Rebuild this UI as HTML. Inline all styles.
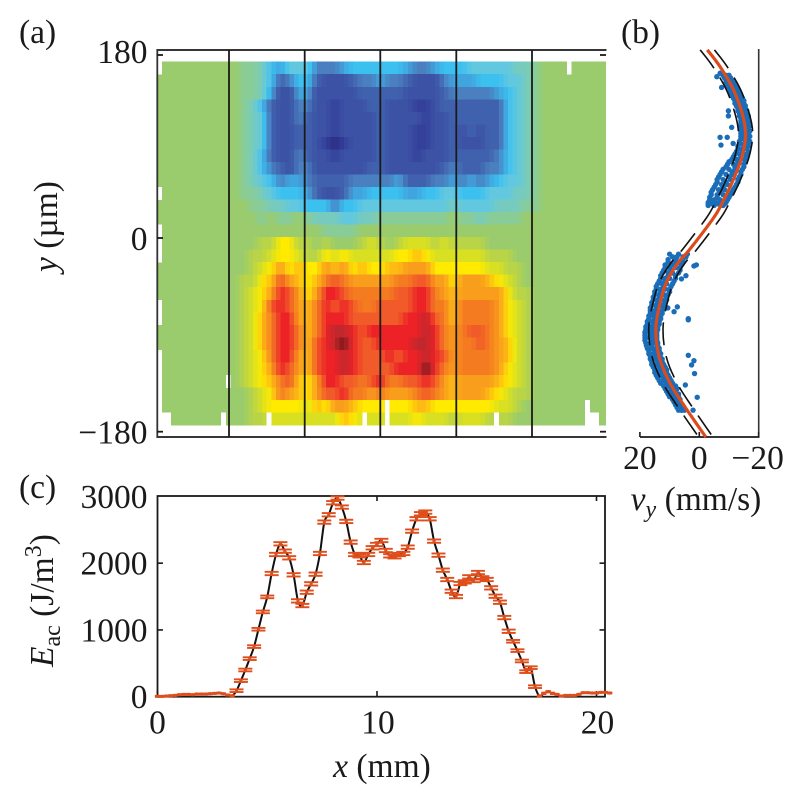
<!DOCTYPE html>
<html lang="en">
<head>
<meta charset="utf-8">
<title>Acoustic energy density chart</title>
<style>
html,body{margin:0;padding:0;background:#fff;}
svg{display:block;}
text{font-family:"Liberation Serif",serif;font-size:33.5px;fill:#1a1a1a;}
.i{font-style:italic;}
</style>
</head>
<body>
<svg id="fig" xmlns="http://www.w3.org/2000/svg" width="800" height="804" viewBox="0 0 800 804">
  <g id="heat" shape-rendering="crispEdges"></g>
  <g id="frameA"></g>
  <g id="panelB"></g>
  <g id="panelC"></g>

  <text x="19" y="43">(a)</text>
  <text x="621" y="43">(b)</text>
  <text x="19" y="498">(c)</text>
  <text transform="translate(57,272) rotate(-90)"><tspan class="i">y</tspan> (µm)</text>
  <text transform="translate(53,667) rotate(-90)"><tspan class="i">E</tspan><tspan dy="7" font-size="24">ac</tspan><tspan dy="-7"> (J/m</tspan><tspan dy="-12" font-size="24">3</tspan><tspan dy="12">)</tspan></text>
  <text x="382" y="777" text-anchor="middle"><tspan class="i">x</tspan> (mm)</text>
  <text x="696" y="510" text-anchor="middle"><tspan class="i">v</tspan><tspan class="i" dy="7" font-size="24">y</tspan><tspan dy="-7"> (mm/s)</tspan></text>
</svg>
<script>
// ---------- Panel (a): heatmap data, one row per y bin, top to bottom ----------
const heatLeadingZeroCols = 8;
const heatTotalCols = 50;
const heatLevels = [
[0,-1,-1,-2,-4,-5,-3,-3,-3,-6,-6,-6,-5,-4,-4,-4,-4,-4,-4,-5,-6,-6,-5,-4,-4,-4,-3,-3,-3,-3,-3,-2,-2,-1],
[0,-1,-1,-2,-4,-7,-6,-4,-4,-7,-8,-8,-8,-7,-6,-6,-5,-6,-6,-7,-8,-8,-8,-6,-5,-5,-5,-4,-4,-4,-3,-3,-2,-1],
[0,-1,-1,-2,-5,-8,-8,-5,-5,-8,-8,-8,-8,-8,-7,-7,-7,-7,-7,-8,-8,-8,-8,-7,-6,-6,-6,-6,-6,-5,-4,-3,-2,-1],
[0,-1,-2,-4,-7,-8,-8,-6,-6,-8,-8,-9,-8,-8,-8,-7,-7,-8,-8,-8,-9,-9,-8,-7,-7,-7,-7,-7,-7,-7,-4,-3,-2,-1],
[0,-1,-2,-3,-7,-8,-8,-6,-7,-8,-8,-9,-8,-8,-8,-8,-7,-8,-8,-8,-8,-9,-8,-8,-7,-7,-7,-7,-7,-7,-4,-3,-2,-1],
[0,-1,-2,-3,-7,-8,-8,-7,-7,-8,-8,-9,-8,-8,-8,-8,-7,-8,-8,-8,-9,-9,-8,-8,-7,-8,-7,-8,-7,-7,-4,-3,-2,-1],
[0,-1,-2,-3,-7,-8,-8,-7,-7,-8,-9,-10,-9,-8,-8,-8,-7,-8,-8,-8,-9,-9,-8,-8,-7,-8,-8,-8,-7,-7,-4,-3,-2,-1],
[0,-1,-2,-4,-7,-8,-8,-6,-7,-8,-8,-9,-8,-8,-8,-8,-7,-8,-8,-8,-9,-8,-8,-8,-7,-7,-7,-7,-7,-6,-4,-3,-2,-1],
[0,-1,-2,-4,-6,-7,-8,-6,-6,-8,-8,-8,-8,-8,-8,-7,-7,-8,-8,-8,-8,-8,-8,-7,-6,-7,-7,-7,-6,-6,-4,-3,-2,-1],
[0,-1,-2,-3,-4,-6,-5,-5,-6,-7,-7,-7,-7,-6,-6,-6,-6,-6,-5,-7,-7,-7,-6,-6,-5,-6,-5,-6,-5,-4,-3,-3,-2,-1],
[0,-1,-1,-2,-3,-4,-4,-4,-5,-7,-8,-8,-7,-5,-5,-4,-4,-4,-4,-5,-5,-4,-4,-3,-3,-4,-4,-4,-3,-3,-3,-2,-2,-1],
[0,0,-1,-1,-2,-2,-3,-3,-4,-4,-4,-6,-4,-4,-3,-3,-3,-3,-3,-3,-3,-3,-3,-3,-2,-3,-3,-3,-3,-2,-2,-2,-1,-1],
[0,0,0,-1,0,-1,-1,0,-1,-2,-2,-2,-3,-3,-2,-2,-1,-1,-1,-1,-1,-1,-1,-1,0,-1,-1,-2,-1,-1,-1,-1,0,0],
[0,0,0,0,0,0,0,0,0,0,-1,-1,-1,-1,0,0,0,0,0,0,0,0,0,0,0,0,0,0,0,0,0,0,0,0],
[0,0,0,1,1,3,3,1,1,0,1,0,0,0,1,2,1,0,1,2,2,2,1,2,1,1,1,1,0,0,0,0,0,0],
[0,0,1,1,2,3,3,2,1,1,3,2,3,2,2,2,2,2,3,3,4,3,2,2,2,2,2,2,1,1,1,0,0,0],
[0,0,1,2,3,5,3,4,3,3,5,4,5,3,4,3,3,4,4,5,5,5,3,3,3,3,3,3,2,2,1,1,0,0],
[0,1,1,3,4,7,5,4,3,4,6,7,6,5,5,5,5,5,6,6,7,7,5,5,3,5,5,5,4,3,2,1,0,0],
[0,1,2,3,5,8,7,5,3,5,8,8,7,6,6,6,6,6,7,7,8,8,6,5,4,5,5,5,5,5,3,1,1,0],
[0,1,2,3,7,8,7,5,4,6,8,7,8,7,6,6,7,7,7,7,8,8,6,6,4,6,6,6,6,5,3,2,1,0],
[0,1,2,4,6,8,8,5,4,6,8,8,8,7,7,7,7,7,7,8,8,9,7,6,4,6,6,6,6,5,3,2,1,0],
[0,1,2,4,6,8,8,6,4,6,8,9,9,8,7,8,8,8,8,8,8,9,8,6,5,6,7,7,6,5,3,2,1,0],
[0,1,2,4,6,8,8,6,4,7,8,9,10,8,7,7,8,8,8,8,9,9,8,6,5,6,6,7,6,5,4,2,1,0],
[0,1,2,3,6,8,8,5,4,7,8,8,9,8,7,7,7,8,7,8,8,9,8,7,5,6,6,6,6,5,4,2,1,0],
[0,1,2,3,5,8,7,5,4,7,8,8,9,8,7,7,7,7,8,8,8,10,8,6,5,6,6,6,6,5,3,2,1,0],
[0,1,2,3,4,6,7,4,3,5,8,8,7,7,6,7,8,6,6,7,7,8,7,5,4,5,5,5,5,4,3,2,1,0],
[0,0,1,2,3,6,5,4,3,5,7,7,8,6,6,5,6,5,5,5,6,7,6,5,4,5,5,5,4,3,2,1,1,0],
[0,0,1,2,3,3,3,3,2,4,3,5,5,4,3,3,3,3,3,3,4,4,3,3,3,3,3,3,3,2,2,1,0,0],
[0,0,1,1,2,2,2,2,2,2,2,2,4,3,2,2,2,2,2,2,3,2,2,2,1,2,2,2,1,1,1,0,0,0]
];
// level -10..10 colours (index 0 = level -10)
const heatPalette = ["#2b2e83","#34409a","#3c52a4","#4062ae","#4a80c0","#40a4de","#3bc0f0","#62c8e0","#76cbbe","#8acc98","#9acb6c","#b9d447","#d9e021","#ffea00","#fdbb13","#f99d1c","#f47b20","#f15a29","#ec2227","#c1272d","#7d1518"];
// grid cells with no measurement, [half-column, row]
const missingCells = [[0,0],[0,10],[0,13],[0,14],[0,15],[0,19],[0,20],[0,23],[0,24],[0,25],[0,26],[0,27],[0,28],[1,28],[2,28],[14,28],[15,25],[24,28],[45,28],[50,28],[50,27],[74,28],[94,27],[94,28],[95,28],[96,28],[90,0]];

const yTicksA = [180, 0, -180];
const sectionLabels = ["s1", "s2", "s3", "s4", "s5"];

// ---------- Panel (b): velocity profile ----------
const fitY = [185,168.4,142.6,109.4,83.6,57,30.5,17.7,-11.2,-23.2,-39,-54.8,-82.7,-110.5,-134.7,-157,-185];
const fitV = [-2.7,-7,-12,-15.4,-14.7,-11.4,-7,-4.3,3.4,7.2,10.7,12.7,14.6,13.5,9.9,4.8,-2.2];
const fitBand = 2.4;
const xTicksB = [20, 0, -20];
const xTickLabelsB = ["20", "0", "\u221220"];
// each row: y then measured velocities at that y
const scatterRows = [
[160,-8,-9,-10],[155,-9,-10,-11],[150,-9.5,-10.5,-12],[145,-10.5,-11.5,-13],[140,-11,-12.5,-14],
[135,-12,-13.5,-15],[130,-12.5,-14,-15.5],[125,-13,-14.5,-16],[120,-13.5,-15,-16.5],[115,-14,-15.5,-16.5],
[110,-14,-15.5,-17],[105,-14,-15.5,-17],[100,-14,-15.5,-17],[95,-13.5,-15.5,-17],[90,-13,-15,-16.5],
[85,-12.5,-14.5,-16.5],[80,-11.5,-14,-16],[75,-10,-13,-15.5],[70,-9,-12,-15],[65,-7.5,-11,-14],
[60,-6.5,-10,-13.5],[55,-6,-9,-13],[50,-5,-8,-12],[45,-4,-7,-11],[40,-3.5,-6,-10],[35,-3,-5.5,-9],[32,-3,-5,-8],
[157.5,-8.5,-9.5,-10.5],[152.5,-9,-10,-11.5],[147.5,-10,-11,-12.5],[142.5,-10.5,-12,-13.5],[137.5,-11.5,-13,-14.5],
[132.5,-12,-13.5,-15],[127.5,-13,-14.5,-15.5],[122.5,-13.5,-14.5,-16],[117.5,-14,-15,-16.5],[112.5,-14,-15.5,-17],
[107.5,-14,-15,-16.5],[102.5,-14,-15,-16.5],[97.5,-14,-15,-16.5],[92.5,-13.5,-15,-16.5],[87.5,-13,-14.5,-16],
[82.5,-12,-13.5,-15,-16],[77.5,-11,-12.5,-14,-15.5],[72.5,-9.5,-11.5,-13,-15],[67.5,-8,-10,-12,-14.5],
[62.5,-7,-9,-11,-14],[57.5,-6,-8,-10.5,-13],[52.5,-5.5,-7.5,-9.5,-12.5],[47.5,-4.5,-6.5,-8.5,-11.5],
[42.5,-4,-6,-8,-10.5],[37.5,-3.5,-5,-7,-9.5],[33.5,-3,-4.5,-6.5,-8.5],
[-15,10,7,4],[-20,10.5,8,5.5],[-25,11.5,9,6],[-30,12,9.5,6.5],[-35,13,10.5,8],[-40,13.5,11.5,8.5],
[-45,14.5,12,9.5],[-50,15,13,10],[-55,15.5,13.5,11],[-60,16,14,11.5],[-65,16.5,14.5,12],[-70,16.5,15,12.5],
[-75,17,15,13],[-80,17.5,15.5,13.5],[-85,18,16,14],[-90,18.3,16,14.3],[-95,18.3,16,14.3],[-100,17.8,16,14],
[-105,17,15,13.5],[-110,16.5,15,13.2],[-115,16,14,12.5],[-120,15.5,13.5,11.5],[-125,15,13,11],[-130,14,12,10],
[-135,13,11,9],[-140,11.5,9.5,7.5],[-145,10.5,9,7],[-150,9,8,6.5],[-155,8,7,6],[-160,7,6,5],
[-17.5,9,7.5,5.5,4.5],[-22.5,10.5,8.5,7,5.5],[-27.5,11.5,10,8,6.5],[-32.5,12.5,10.5,9,7],[-37.5,13,11.5,10,8],
[-42.5,14,12.5,11,9],[-47.5,14.5,13,11.5,10],[-52.5,15,13.5,12,10.5],[-57.5,15.5,14,12.5,11],[-62.5,16,14.5,13,12],
[-67.5,16.5,15,13.5,12.5],[-72.5,17,15.5,14,13],[-77.5,17.5,16,14.5,13.5],[-82.5,18,16.5,15,14],[-87.5,18.3,17,15.5,14.3],
[-92.5,18.3,17,15.5,14.3],[-97.5,18,16.5,15,14],[-102.5,17.5,16,14.5,13.5],[-107.5,17,15.5,14,13],[-112.5,16.5,15,13.5,12.5],
[-117.5,16,14.5,13,12],[-122.5,15,13.5,12,11],[-127.5,14.5,13,11.5,10.5],[-132.5,13.5,12,10.5,9.5],[-137.5,12,10.5,9,8],
[-142.5,11,9.5,8],[-147.5,10,8.5,7],[-152.5,8.5,7.5,6.5],[-157.5,7.5,6.5,5.5],
[99,-7,-9.4],[91.4,-7.3],[108.8,-10.9],[125,-9.8],[120,-9.8],[158.6,-5.9],[148,-7.5],[162,-7],[93,-11.4],
[-26,1.8],[-25,1],[-35,4.5],[-38,6],[-30,11.6],[-65,10.6],[-64,7.4],[-68.5,8.5],[-75,3.7],[-76,3.7],
[-109,3.7],[-114,1.8],[-118,2.6],[-126,1.6],[-136.6,4.7],[-148,0.7],[-160,2.1,5.9]
];

// ---------- Panel (c): energy density vs x ----------
const energyStepMm = 0.2;
const energy = [5,5,10,15,20,30,35,35,30,40,40,40,45,50,55,45,25,15,
90,240,400,570,750,1010,1270,1495,1845,2130,2290,2180,2080,1825,1435,1365,1565,1690,1835,2145,2615,2725,2905,2975,2840,2625,2315,2130,2110,2010,2130,2230,2280,2340,2190,2110,
2095,2130,2145,2240,2480,2665,2740,2765,2665,2330,2120,1895,1755,1580,1500,1695,1720,1795,1740,1860,1780,1755,1630,1505,1415,1185,980,830,690,535,375,435,150,10,50,75,50,35,10,20,20,20,35,60,60,55,55,65,65,55];
const energyErr = [5,5,5,5,5,5,5,5,5,5,5,5,5,5,5,5,5,5,
20,20,20,20,20,20,20,20,25,25,25,25,25,25,25,25,25,25,25,25,25,25,25,25,25,25,25,25,25,25,25,25,25,25,25,25,
25,25,25,25,25,25,25,25,25,25,25,25,25,25,25,25,25,25,25,25,25,25,25,25,25,25,25,20,20,20,20,20,20,8,8,8,8,5,5,5,5,5,5,5,5,5,5,5,5,5];
const xTicksC = [0, 10, 20];
const yTicksC = [0, 1000, 2000, 3000];

const NS = "http://www.w3.org/2000/svg";
function mk(tag, attrs, parent, txt) {
  const el = document.createElementNS(NS, tag);
  for (const k in attrs) el.setAttribute(k, attrs[k]);
  if (txt !== undefined) el.textContent = txt;
  parent.appendChild(el);
  return el;
}
function segment(x1, y1, x2, y2, w, color, parent) {
  return mk("line", {x1:x1, y1:y1, x2:x2, y2:y2, stroke:color || "#1a1a1a", "stroke-width":w}, parent);
}

// shared y axis, panels (a) and (b)
function yScaleA(v) { return v >= 0 ? 238 - v * 1.017 : 238 - v * 1.0761; }

// ---- panel a ----
const heatG = document.getElementById("heat");
const heatLeft = 157.5, heatRight = 605.7, heatTop = 61.7, rowH = 12.53, colW = 9.1;
function rowY(r) { return heatTop + r * rowH; }
function hexToRgb(h) { return [parseInt(h.slice(1,3),16), parseInt(h.slice(3,5),16), parseInt(h.slice(5,7),16)]; }
function heatColor(level) {
  const t = Math.max(0, Math.min(20, level + 10));
  const lo = Math.floor(t), hi = Math.min(20, lo + 1), f = t - lo;
  const a = hexToRgb(heatPalette[lo]), b = hexToRgb(heatPalette[hi]);
  return "rgb(" + [0,1,2].map(function (i) { return Math.round(a[i] + (b[i] - a[i]) * f); }).join(",") + ")";
}
function levelAt(row, c) {
  const idx = c - heatLeadingZeroCols;
  return (idx >= 0 && idx < row.length) ? row[idx] : 0;
}
heatLevels.forEach(function (row, r) {
  for (let c = 0; c < heatTotalCols; c++) {
    for (let h = 0; h < 2; h++) {
      const near = levelAt(row, c), side = levelAt(row, h === 0 ? c - 1 : c + 1);
      const value = near * 0.72 + side * 0.28;
      const x0 = heatLeft + (c + h / 2) * colW;
      const x1 = Math.min(x0 + colW / 2, heatRight);
      if (x1 <= x0) continue;
      const cell = mk("rect", {x:x0.toFixed(2), y:rowY(r).toFixed(2), width:(x1 - x0 + 0.4).toFixed(2), height:(rowH + 0.3).toFixed(2), fill:heatColor(value)}, heatG);
      
      
    }
  }
});
missingCells.forEach(function (m) {
  const gap = mk("rect", {x:heatLeft + m[0] * colW / 2, y:rowY(m[1]), width:colW / 2, height:rowH + 0.3, fill:"#fff"}, heatG);
  
  
});

const frameA = document.getElementById("frameA");
const spineATop = segment(157, 50, 606.5, 50, 1.8, "#1a1a1a", frameA);


const spineABottom = segment(157, 437, 606.5, 437, 1.8, "#1a1a1a", frameA);


const spineALeft = segment(157.3, 49, 157.3, 438, 1.8, "#333", frameA);


const dividerX = [229, 304.7, 380.3, 456.3, 532];
sectionLabels.forEach(function (s, i) {
  const d = segment(dividerX[i], 50, dividerX[i], 437, 1.8, "#1a1a1a", frameA);
  
  
});
const yTickPos = {180:55, 0:238, "-180":431.7};
yTicksA.forEach(function (v) {
  const yp = yTickPos[v];
  const t = segment(157, yp, 163, yp, 1.8, "#1a1a1a", frameA);
  
  
  if (v !== 0) {
    const tr = segment(600, yp, 606, yp, 1.8, "#1a1a1a", frameA);
    
    
  }
  const lab = mk("text", {x:147.5, y:yp + (v === 180 ? 8 : 12), "text-anchor":"end"}, frameA, v < 0 ? "\u2212" + (-v) : String(v));
  
  
});

// ---- panel b ----
const pB = document.getElementById("panelB");
function xScaleB(v) { return 699.3 - v * 2.97; }
function smoothPath(pts) {
  let d = "M" + pts[0][0].toFixed(2) + " " + pts[0][1].toFixed(2);
  for (let i = 0; i < pts.length - 1; i++) {
    const p0 = pts[Math.max(0, i - 1)], p1 = pts[i], p2 = pts[i + 1], p3 = pts[Math.min(pts.length - 1, i + 2)];
    const c1x = p1[0] + (p2[0] - p0[0]) / 6, c1y = p1[1] + (p2[1] - p0[1]) / 6;
    const c2x = p2[0] - (p3[0] - p1[0]) / 6, c2y = p2[1] - (p3[1] - p1[1]) / 6;
    d += "C" + c1x.toFixed(2) + " " + c1y.toFixed(2) + " " + c2x.toFixed(2) + " " + c2y.toFixed(2) + " " + p2[0].toFixed(2) + " " + p2[1].toFixed(2);
  }
  return d;
}
const spineBRight = segment(758.7, 49, 758.7, 437.5, 1.6, "#333", pB);


const spineBBottom = segment(640, 437, 759.5, 437, 1.8, "#1a1a1a", pB);


xTicksB.forEach(function (v, i) {
  const xp = xScaleB(v);
  const t = segment(xp, 432, xp, 437, 1.6, "#1a1a1a", pB);
  
  
  const lab = mk("text", {x:xp + (v < 0 ? -1 : 0), y:469, "text-anchor":"middle"}, pB, xTickLabelsB[i]);
  
  
});
scatterRows.forEach(function (row) {
  for (let i = 1; i < row.length; i++) {
    const dot = mk("circle", {cx:xScaleB(row[i]), cy:yScaleA(row[0]), r:2.7, fill:"#1a6db8"}, pB);
    
    
  }
});
[fitBand, -fitBand].forEach(function (off) {
  const pts = fitY.map(function (y, i) { return [xScaleB(fitV[i] + off), yScaleA(y)]; });
  const dashed = mk("path", {d:smoothPath(pts), fill:"none", stroke:"#111", "stroke-width":1.6, "stroke-dasharray":"23 11"}, pB);
  
  
});
const fitLine = mk("path", {d:smoothPath(fitY.map(function (y, i) { return [xScaleB(fitV[i]), yScaleA(y)]; })), fill:"none", stroke:"#dd4a1c", "stroke-width":3.2}, pB);



// ---- panel c ----
const pC = document.getElementById("panelC");
function xScaleC(v) { return 157.5 + v * 21.95; }
function yScaleC(v) { return 696.7 - v * 0.06677; }
const frameC = mk("rect", {x:157.5, y:496, width:447.5, height:200.7, fill:"none", stroke:"#1a1a1a", "stroke-width":1.8}, pC);


xTicksC.forEach(function (v) {
  const xp = xScaleC(v);
  const t1 = segment(xp, 696.7, xp, 691, 1.6, "#1a1a1a", pC);
  
  
  if (v > 0) {
    const t2 = segment(xp, 496, xp, 501, 1.6, "#1a1a1a", pC);
    
    
  }
  const lab = mk("text", {x:xp + (v > 0 ? 1 : 0), y:733.5, "text-anchor":"middle"}, pC, String(v));
  
  
});
yTicksC.forEach(function (v) {
  const yp = yScaleC(v);
  if (v > 0 && v < 3000) {
    const t1 = segment(157.5, yp, 163, yp, 1.6, "#1a1a1a", pC);
    
    
    const t2 = segment(599.5, yp, 605, yp, 1.6, "#1a1a1a", pC);
    
    
  }
  const lab = mk("text", {x:147.5, y:yp + 11.5, "text-anchor":"end"}, pC, String(v));
  
  
});
const energyPts = energy.map(function (v, i) { return [xScaleC(i * energyStepMm), yScaleC(v)]; });
const energyLine = mk("path", {d:smoothPath(energyPts), fill:"none", stroke:"#111", "stroke-width":2}, pC);


energy.forEach(function (v, i) {
  const xp = xScaleC(i * energyStepMm);
  const e = energyErr[i];
  const half = e < 15 ? 2.6 : 7;
  const g = mk("g", {stroke:"#e04e1c", "stroke-width":e < 15 ? 2.2 : 1.9, fill:"none"}, pC);
  
  
  mk("line", {x1:xp - half, x2:xp + half, y1:yScaleC(v + e), y2:yScaleC(v + e)}, g);
  mk("line", {x1:xp - half, x2:xp + half, y1:yScaleC(v - e), y2:yScaleC(v - e)}, g);
  const dot = mk("circle", {cx:xp, cy:yScaleC(v), r:1.6, fill:"#e04e1c"}, pC);
  
  
});
</script>
</body>
</html>
